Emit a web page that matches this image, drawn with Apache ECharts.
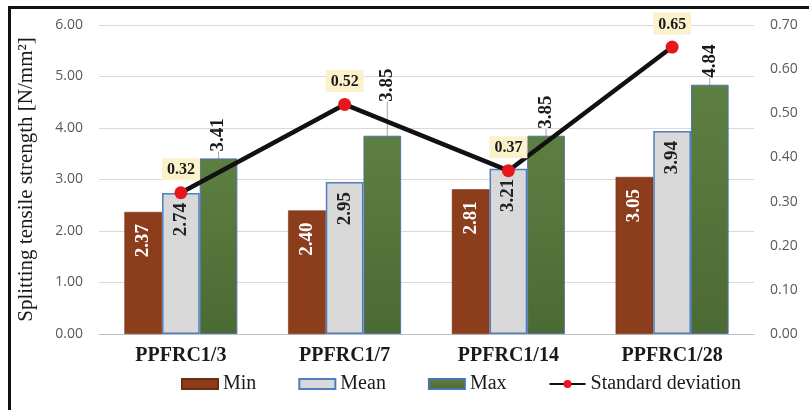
<!DOCTYPE html>
<html>
<head>
<meta charset="utf-8">
<script src="https://cdn.jsdelivr.net/npm/echarts@6/dist/echarts.min.js"></script>
<style>
  html, body { margin: 0; padding: 0; background: #fff; }
  #wrap { position: relative; width: 809px; height: 410px; overflow: hidden; }
  #chart { position: absolute; left: 0; top: 0; width: 809px; height: 410px; }
  .frame-top { position: absolute; left: 8px; top: 6px; width: 801px; height: 3px; background: #111; }
  .frame-left { position: absolute; left: 8px; top: 6px; width: 3px; height: 404px; background: #111; }
</style>
</head>
<body>
<div id="wrap">
  <div id="chart"></div>
  <div class="frame-top"></div>
  <div class="frame-left"></div>
</div>
<script>
// Splitting tensile strength per mix, with standard deviation on the right axis
const categories = ['PPFRC1/3', 'PPFRC1/7', 'PPFRC1/14', 'PPFRC1/28'];
const minValues = [2.37, 2.40, 2.81, 3.05];
const meanValues = [2.74, 2.95, 3.21, 3.94];
const maxValues = [3.41, 3.85, 3.85, 4.84];
const stdDevValues = [0.32, 0.52, 0.37, 0.65];
const leftTicks = { min: 0, max: 6, interval: 1 };
const rightTicks = { min: 0, max: 0.7, interval: 0.1 };

const SERIF = '"Liberation Serif", "Times New Roman", serif';
const SANS = '"Open Sans", "Liberation Sans", sans-serif';
const fmt = p => Number(p.value).toFixed(2);

const barLabel = (color, position, align, distance) => ({
  show: true,
  position: position,
  rotate: 90,
  align: align,
  verticalAlign: 'middle',
  distance: distance,
  formatter: fmt,
  color: color,
  fontFamily: SERIF,
  fontWeight: 'bold',
  fontSize: 19
});

const chart = echarts.init(document.getElementById('chart'), null, { renderer: 'canvas' });

chart.setOption({
  animation: false,
  backgroundColor: '#ffffff',
  grid: { left: 99, right: 55, top: 25, bottom: 76 },
  legend: {
    bottom: 11,
    left: 176,
    itemWidth: 36,
    itemHeight: 10,
    itemGap: 42,
    textStyle: { fontFamily: SERIF, fontSize: 20, color: '#1a1a1a' },
    data: [
      { name: 'Min', icon: 'rect' },
      { name: 'Mean', icon: 'rect' },
      { name: 'Max', icon: 'rect' },
      { name: 'Standard deviation' }
    ]
  },
  xAxis: {
    type: 'category',
    data: categories,
    axisTick: { show: false },
    axisLine: { show: true, lineStyle: { color: '#bfbfbf', width: 1 } },
    axisLabel: {
      margin: 12,
      fontFamily: SERIF,
      fontWeight: 'bold',
      fontSize: 20,
      color: '#1a1a1a'
    }
  },
  yAxis: [
    {
      type: 'value',
      min: leftTicks.min,
      max: leftTicks.max,
      interval: leftTicks.interval,
      name: 'Splitting tensile strength [N/mm²]',
      nameLocation: 'middle',
      nameGap: 62,
      nameTextStyle: { fontFamily: SERIF, fontSize: 21, color: '#1a1a1a' },
      axisLine: { show: false },
      axisTick: { show: false },
      axisLabel: {
        margin: 16,
        fontFamily: SANS,
        fontSize: 14,
        color: '#595959',
        formatter: v => v.toFixed(2)
      },
      splitLine: { lineStyle: { color: '#d9d9d9', width: 1 } }
    },
    {
      type: 'value',
      min: rightTicks.min,
      max: rightTicks.max,
      interval: rightTicks.interval,
      axisLine: { show: false },
      axisTick: { show: false },
      splitLine: { show: false },
      axisLabel: {
        margin: 16,
        fontFamily: SANS,
        fontSize: 14,
        color: '#595959',
        formatter: v => v.toFixed(2)
      }
    }
  ],
  series: [
    {
      name: 'Min',
      type: 'bar',
      data: minValues,
      barGap: '0%',
      barCategoryGap: '31%',
      itemStyle: { color: '#8b3d1c', borderColor: '#6e2c12', borderWidth: 0.5 },
      label: barLabel('#ffffff', 'insideTop', 'right', 12)
    },
    {
      name: 'Mean',
      type: 'bar',
      data: meanValues,
      itemStyle: { color: '#d9d9d9', borderColor: '#4f7fbd', borderWidth: 1.5 },
      label: barLabel('#222222', 'insideTop', 'right', 10)
    },
    {
      name: 'Max',
      type: 'bar',
      data: maxValues,
      itemStyle: {
        color: new echarts.graphic.LinearGradient(0, 0, 0, 1, [
          { offset: 0, color: '#5e7f42' },
          { offset: 1, color: '#4c6a33' }
        ]),
        borderColor: '#4f74a8',
        borderWidth: 1
      },
      label: barLabel('#1a1a1a', 'top', 'left', 7),
      // the 1/7 label is lifted above the line, joined to its bar by a leader
      labelLayout: p => (p.dataIndex === 1 ? { dx: 27, dy: 5 } : {}),
      labelLine: { show: true, lineStyle: { color: '#a6a6a6', width: 1 } }
    },
    {
      name: 'Standard deviation',
      type: 'line',
      yAxisIndex: 1,
      data: stdDevValues,
      symbol: 'circle',
      symbolSize: 13,
      itemStyle: { color: '#e8171c' },
      lineStyle: { color: '#111111', width: 4.5 },
      z: 5,
      label: {
        show: true,
        position: 'top',
        distance: 6,
        formatter: fmt,
        fontFamily: SERIF,
        fontWeight: 'bold',
        fontSize: 16,
        color: '#1a1a1a',
        backgroundColor: '#fbf2cc',
        padding: [4, 5, 2, 5]
      }
    }
  ]
});
</script>
</body>
</html>
